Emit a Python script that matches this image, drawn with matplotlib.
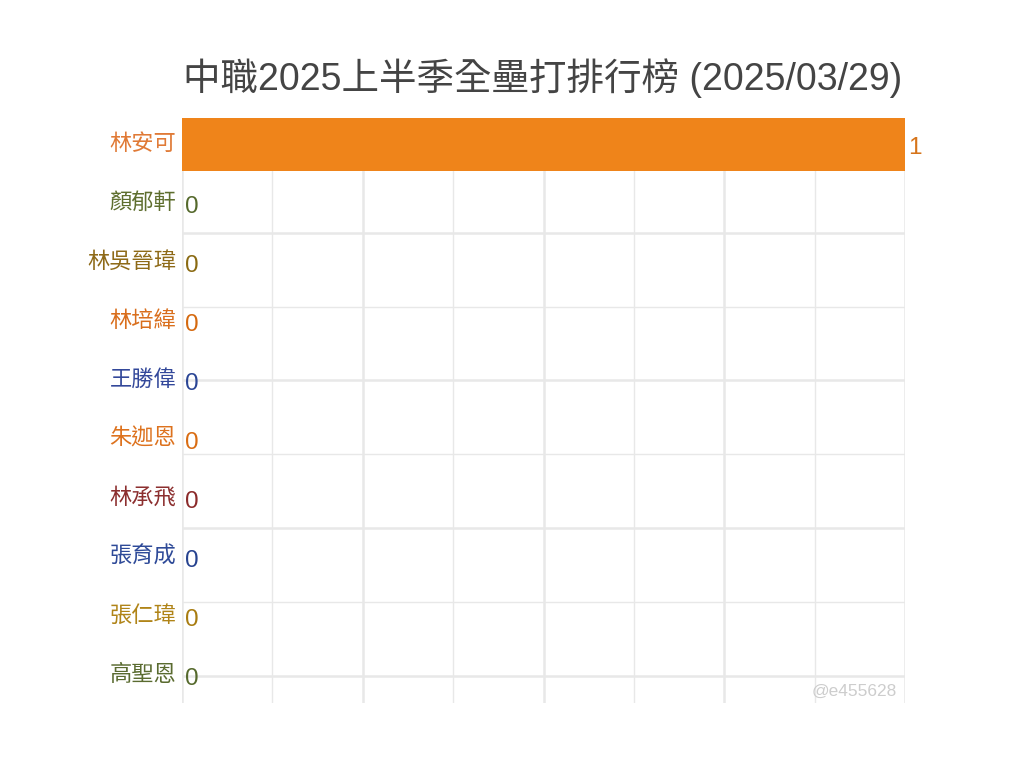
import matplotlib
matplotlib.use("Agg")
import matplotlib.pyplot as plt
from matplotlib.ticker import FixedLocator, NullFormatter

title = "中職2025上半季全壘打排行榜 (2025/03/29)"
names = ["林安可", "顏郁軒", "林吳晉瑋", "林培緯", "王勝偉", "朱迦恩", "林承飛", "張育成", "張仁瑋", "高聖恩"]
values = [1, 0, 0, 0, 0, 0, 0, 0, 0, 0]
name_colors = ["#E07A36", "#5E6E2E", "#8E6A18", "#D96E1C", "#33489A", "#DD721E", "#8C2F2F", "#2E4A98", "#B08418", "#5A6B30"]
value_colors = ["#D6741A", "#55692C", "#8A6A12", "#D5690F", "#2A4595", "#D96C12", "#8B2A2A", "#26428F", "#A87C10", "#55692C"]
bar_color = "#EF841A"
watermark = "@e455628"

cjk = ["Liberation Sans", "Noto Sans CJK TC", "DejaVu Sans"]
plt.rcParams["font.family"] = cjk

fig = plt.figure(figsize=(10.24, 7.68), dpi=100)
W, H = 1024, 768
left, right, top, bottom = 182, 905, 118, 703
ax = fig.add_axes([left / W, (H - bottom) / H, (right - left) / W, (bottom - top) / H])

y = list(range(len(names)))
ax.barh(y, values, height=0.9, color=bar_color, zorder=1)

ax.set_xlim(0, max(values))
ax.set_ylim(9.466, -0.449)

grid_c = "#E8E8E8"
ax.xaxis.set_major_locator(FixedLocator([0, 0.25, 0.5, 0.75, 1.0]))
ax.xaxis.set_minor_locator(FixedLocator([0.125, 0.375, 0.625, 0.875]))
ax.yaxis.set_major_locator(FixedLocator([1.5, 4.0, 6.5, 9.0]))
ax.yaxis.set_minor_locator(FixedLocator([0.25, 2.75, 5.25, 7.75]))
ax.xaxis.set_major_formatter(NullFormatter())
ax.yaxis.set_major_formatter(NullFormatter())
ax.tick_params(which="both", length=0)
ax.grid(True, which="major", color=grid_c, linewidth=1.8, zorder=0)
ax.grid(True, which="minor", color=grid_c, linewidth=1.0, zorder=0)
ax.set_axisbelow(True)
for s in ax.spines.values():
    s.set_visible(False)

for i, (n, v) in enumerate(zip(names, values)):
    ax.annotate(n, xy=(0, i), xytext=(-4, 1), textcoords="offset points",
                ha="right", va="center", fontsize=16, color=name_colors[i],
                family=["Noto Sans CJK TC", "DejaVu Sans"], fontweight="light",
                annotation_clip=False)
    ax.annotate(str(v), xy=(v, i), xytext=(2, -2.5), textcoords="offset points",
                ha="left", va="center", fontsize=17.5, color=value_colors[i],
                family=["Liberation Sans", "DejaVu Sans"], annotation_clip=False)

fig.text(543 / W, 1 - 78 / H, title, ha="center", va="center", fontsize=27,
         color="#444444", family=cjk)
fig.text(897 / W, 1 - 691 / H, watermark, ha="right", va="center", fontsize=12.5,
         color="#CDCDCD", family=["Liberation Sans", "DejaVu Sans"])

fig.savefig("out.png", dpi=100, facecolor="white")
